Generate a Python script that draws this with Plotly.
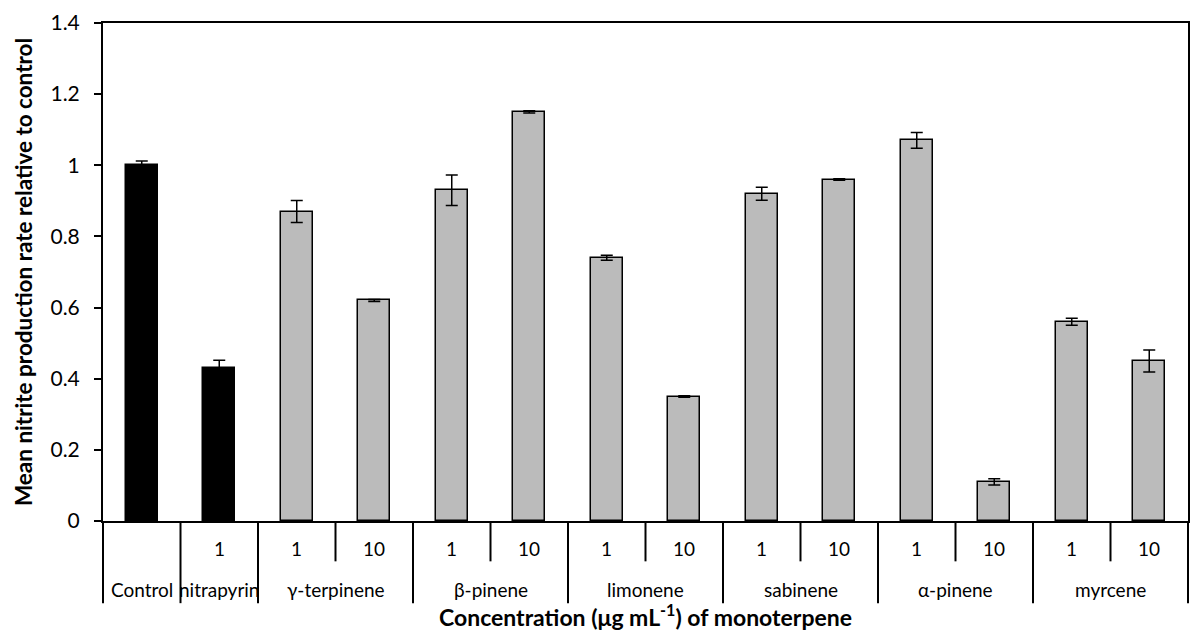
import plotly.graph_objects as go

groups = ["Control", "nitrapyrin", "γ-terpinene", "γ-terpinene", "β-pinene", "β-pinene",
          "limonene", "limonene", "sabinene", "sabinene", "α-pinene", "α-pinene",
          "myrcene", "myrcene"]
conc = ["", "1", "1", "10", "1", "10", "1", "10", "1", "10", "1", "10", "1", "10"]
values = [1.00, 0.43, 0.87, 0.62, 0.93, 1.15, 0.74, 0.35, 0.92, 0.96, 1.07, 0.11, 0.56, 0.45]
errors = [0.012, 0.022, 0.031, 0.003, 0.043, 0.003, 0.007, 0.002, 0.018, 0.002, 0.022, 0.009, 0.010, 0.031]
reference_groups = ["Control", "nitrapyrin"]
y_ticks = [0, 0.2, 0.4, 0.6, 0.8, 1.0, 1.2, 1.4]
y_ticktext = ["0", "0.2", "0.4", "0.6", "0.8", "1", "1.2", "1.4"]

FONT = "Lato"
n = len(values)
xs = list(range(n))
colors = ["#000000" if g in reference_groups else "#BBBBBB" for g in groups]

fig = go.Figure()
fig.add_trace(go.Bar(
    x=xs, y=values, width=0.41,
    marker=dict(color=colors, line=dict(color="#000000", width=1.5)),
    error_y=dict(type="data", array=errors, visible=True, color="#000000",
                 thickness=1.5, width=6),
    showlegend=False,
    hovertext=[f"{g} {c}" for g, c in zip(groups, conc)],
))

shapes = []
annotations = []
# group spans
spans = []
start = 0
for i in range(1, n + 1):
    if i == n or groups[i] != groups[start]:
        spans.append((groups[start], start, i - 1))
        start = i

y_lvl1 = -0.055
y_lvl2 = -0.138
y_short = -0.081
y_long = -0.165

def dom(b):
    return (b + 0.5) / n

# long separators at group boundaries (including the outer edges)
bounds = [s[1] - 0.5 for s in spans] + [spans[-1][2] + 0.5]
for b in bounds:
    shapes.append(dict(type="line", xref="x domain", yref="paper",
                       x0=dom(b), x1=dom(b), y0=0, y1=y_long,
                       line=dict(color="#000000", width=2)))
# short ticks between categories within a group
for name, a, z in spans:
    for k in range(a, z):
        shapes.append(dict(type="line", xref="x domain", yref="paper",
                           x0=dom(k + 0.5), x1=dom(k + 0.5), y0=0, y1=y_short,
                           line=dict(color="#000000", width=2)))
    annotations.append(dict(x=(a + z) / 2, y=y_lvl2, xref="x", yref="paper",
                            text=name, showarrow=False, yanchor="middle", borderpad=0,
                            font=dict(family=FONT, size=19, color="#000000")))
for i, c in enumerate(conc):
    if c:
        annotations.append(dict(x=i, y=y_lvl1, xref="x", yref="paper",
                                text=c, showarrow=False, yanchor="middle", borderpad=0,
                                font=dict(family=FONT, size=19, color="#000000")))

fig.update_layout(
    width=1192, height=641,
    margin=dict(l=103, r=2, t=23, b=120),
    paper_bgcolor="white", plot_bgcolor="white",
    font=dict(family=FONT, color="#000000"),
    shapes=shapes, annotations=annotations,
    bargap=0,
)
fig.update_xaxes(
    range=[-0.5, n - 0.5], showticklabels=False, ticks="",
    showline=True, linecolor="#000000", linewidth=2, mirror=True,
    showgrid=False, zeroline=False,
    title=dict(text="<b>Concentration (μg mL<sup>-1</sup>) of monoterpene</b>",
               font=dict(family=FONT, size=23, color="#000000"), standoff=88),
)
fig.update_yaxes(
    range=[0, 1.4], tickvals=y_ticks, ticktext=y_ticktext,
    ticks="outside", ticklen=7, tickwidth=2, tickcolor="#000000",
    tickfont=dict(family=FONT, size=21, color="#000000"),
    ticklabelstandoff=10,
    showline=True, linecolor="#000000", linewidth=2, mirror=True,
    showgrid=False, zeroline=False,
    title=dict(text="<b>Mean nitrite production rate relative to control</b>",
               font=dict(family=FONT, size=22.5, color="#000000"), standoff=12),
)

fig.write_html("out.html")
